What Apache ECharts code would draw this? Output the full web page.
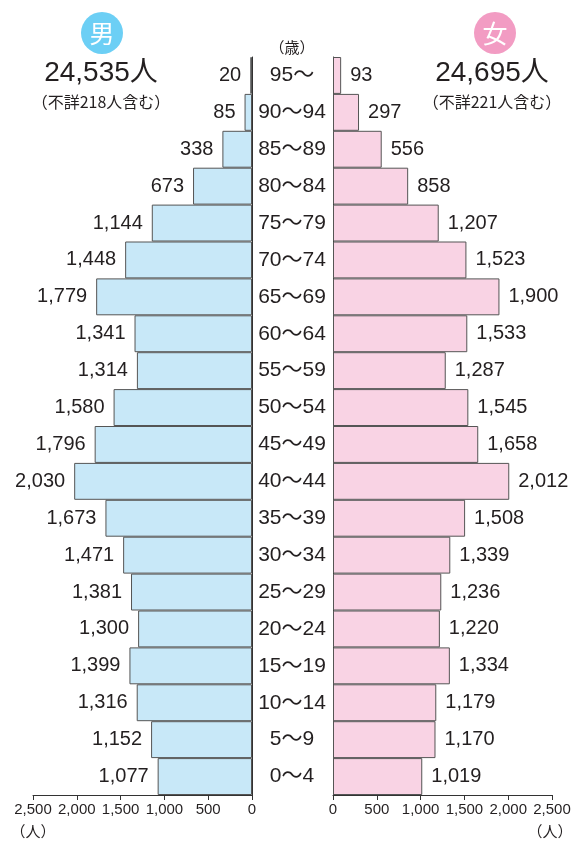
<!DOCTYPE html>
<html><head><meta charset="utf-8">
<script src="https://cdn.jsdelivr.net/npm/echarts@6/dist/echarts.min.js"></script>
<style>html,body{margin:0;padding:0;background:#fff}#c{width:577px;height:841px}</style>
</head><body><div id="c"></div>
<script>
var ages = ['95〜','90〜94','85〜89','80〜84','75〜79','70〜74','65〜69','60〜64','55〜59','50〜54','45〜49','40〜44','35〜39','30〜34','25〜29','20〜24','15〜19','10〜14','5〜9','0〜4'];
var male = [20,85,338,673,1144,1448,1779,1341,1314,1580,1796,2030,1673,1471,1381,1300,1399,1316,1152,1077];
var female = [93,297,556,858,1207,1523,1900,1533,1287,1545,1658,2012,1508,1339,1236,1220,1334,1179,1170,1019];
var axisTicks = [0,500,1000,1500,2000,2500];
var maleTotal = '24,535人', maleNote = '（不詳218人含む）';
var femaleTotal = '24,695人', femaleNote = '（不詳221人含む）';

var FONT = '"Liberation Sans","Noto Sans CJK JP",sans-serif';
var TXT = '#231f20';
function fmt(v){ return Number(v).toLocaleString('en-US'); }

var chart = echarts.init(document.getElementById('c'), null, {renderer:'canvas'});
var xCommon = function(inv, gi){
  return {
    type:'value', gridIndex:gi, min:axisTicks[0], max:axisTicks[axisTicks.length-1], interval:500, inverse:inv,
    axisLine:{show:true, lineStyle:{color:'#333', width:1}},
    axisTick:{show:true, length:5, lineStyle:{color:'#333'}},
    axisLabel:{color:TXT, fontSize:15, fontFamily:FONT, margin:7, formatter:function(v){return fmt(v);}},
    splitLine:{show:false}
  };
};
chart.setOption({
  animation:false,
  grid:[
    {left:33, right:325, top:57, bottom:46},
    {left:333, right:25, top:57, bottom:46}
  ],
  xAxis:[ xCommon(true,0), xCommon(false,1) ],
  yAxis:[
    {type:'category', gridIndex:0, data:ages, inverse:true, position:'right',
     axisLine:{show:true, lineStyle:{color:'#333', width:1}}, axisTick:{show:false},
     axisLabel:{show:true, align:'center', margin:40, color:TXT, fontSize:21, fontFamily:FONT}},
    {type:'category', gridIndex:1, data:ages, inverse:true, position:'left',
     axisLine:{show:true, lineStyle:{color:'#333', width:1}}, axisTick:{show:false},
     axisLabel:{show:false}}
  ],
  series:[
    {type:'bar', xAxisIndex:0, yAxisIndex:0, data:male, barCategoryGap:'0%',
     itemStyle:{color:'#c8e8f8', borderColor:'#555', borderWidth:1},
     label:{show:true, position:'left', distance:9, color:TXT, fontSize:20, fontFamily:FONT, formatter:function(p){return fmt(p.value);}}},
    {type:'bar', xAxisIndex:1, yAxisIndex:1, data:female, barCategoryGap:'0%',
     itemStyle:{color:'#f9d3e4', borderColor:'#555', borderWidth:1},
     label:{show:true, position:'right', distance:9, color:TXT, fontSize:20, fontFamily:FONT, formatter:function(p){return fmt(p.value);}}}
  ],
  graphic:[
    {type:'circle', shape:{cx:102, cy:33, r:21}, style:{fill:'#6ccff5'}},
    {type:'text', x:102, y:33, style:{text:'男', fill:'#fff', font:'25px "Noto Sans CJK JP"', textAlign:'center', textVerticalAlign:'middle'}},
    {type:'circle', shape:{cx:495, cy:33, r:21}, style:{fill:'#f29cc3'}},
    {type:'text', x:495, y:33, style:{text:'女', fill:'#fff', font:'25px "Noto Sans CJK JP"', textAlign:'center', textVerticalAlign:'middle'}},
    {type:'text', x:101, y:73, style:{text:maleTotal, fill:TXT, font:'28px '+FONT, textAlign:'center', textVerticalAlign:'middle'}},
    {type:'text', x:101, y:102, style:{text:maleNote, fill:TXT, font:'16px "Noto Sans CJK JP"', textAlign:'center', textVerticalAlign:'middle'}},
    {type:'text', x:492, y:73, style:{text:femaleTotal, fill:TXT, font:'28px '+FONT, textAlign:'center', textVerticalAlign:'middle'}},
    {type:'text', x:492, y:102, style:{text:femaleNote, fill:TXT, font:'16px "Noto Sans CJK JP"', textAlign:'center', textVerticalAlign:'middle'}},
    {type:'text', x:292, y:47, style:{text:'（歳）', fill:TXT, font:'15px "Noto Sans CJK JP"', textAlign:'center', textVerticalAlign:'middle'}},
    {type:'text', x:33, y:831, style:{text:'（人）', fill:TXT, font:'15px "Noto Sans CJK JP"', textAlign:'center', textVerticalAlign:'middle'}},
    {type:'text', x:550, y:831, style:{text:'（人）', fill:TXT, font:'15px "Noto Sans CJK JP"', textAlign:'center', textVerticalAlign:'middle'}}
  ]
});
</script></body></html>
